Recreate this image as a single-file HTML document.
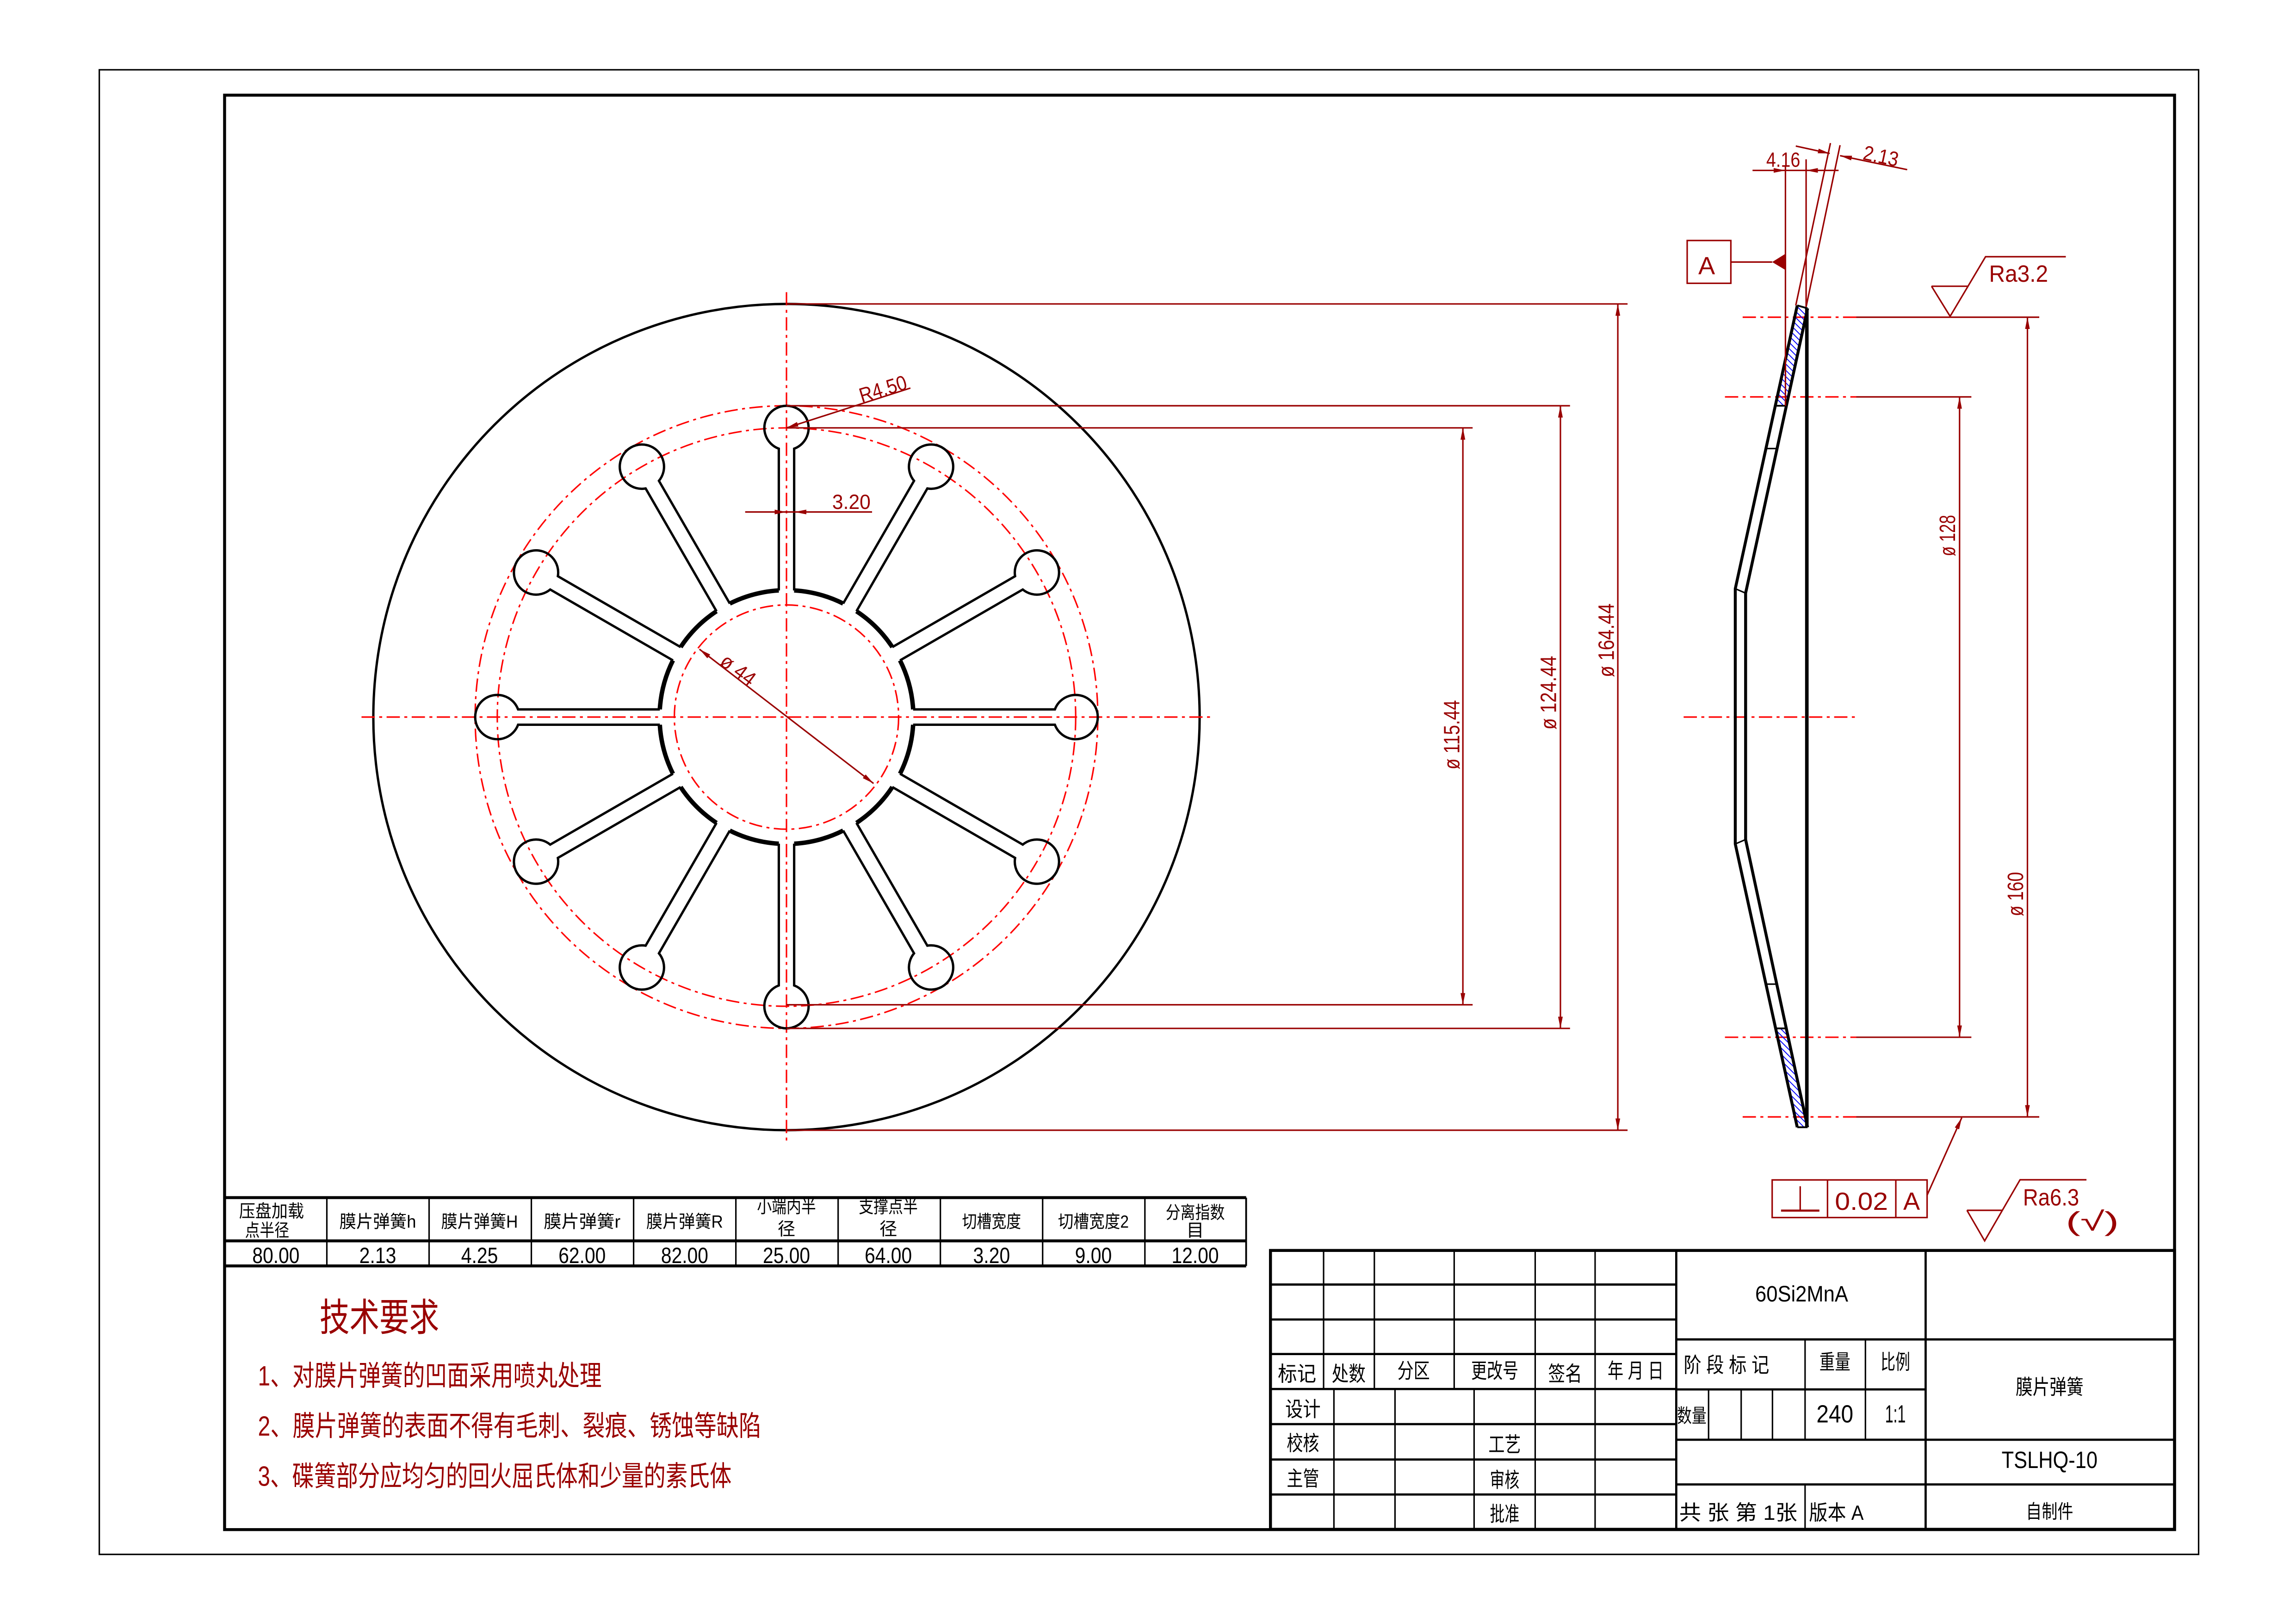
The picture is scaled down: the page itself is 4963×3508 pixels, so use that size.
<!DOCTYPE html>
<html><head><meta charset="utf-8"><style>html,body{margin:0;padding:0;background:#fff}svg{display:block}</style></head><body>
<svg xmlns="http://www.w3.org/2000/svg" xmlns:xlink="http://www.w3.org/1999/xlink" width="4963" height="3508" viewBox="0 0 1556 1100" preserveAspectRatio="none" font-family="Liberation Sans, Noto Sans CJK SC, sans-serif">
<defs>
<pattern id="h" width="3" height="3" patternUnits="userSpaceOnUse" patternTransform="rotate(-45)"><line x1="0" y1="0" x2="0" y2="3" stroke="#0000ff" stroke-width="1.2"/></pattern>
<marker id="ar" viewBox="0 0 10 4" refX="10" refY="2" markerWidth="8" markerHeight="3.2" markerUnits="userSpaceOnUse" orient="auto-start-reverse"><path d="M0,0 L10,2 L0,4 z" fill="#990000"/></marker>
<g id="sp">
<path d="M85.8,-5.2 L181.9,-5.2 A15,15 0 1 1 181.9,5.2 L85.8,5.2" fill="none" stroke="#000" stroke-width="1.6"/>
<path d="M85.84,5.2 A86,86 0 0 1 76.95,38.41" fill="none" stroke="#000" stroke-width="3"/>
</g>
</defs>
<rect width="1556" height="1100" fill="#fff"/>
<!-- borders -->
<rect x="67.3" y="47.3" width="1422.7" height="1006.2" fill="none" stroke="#000" stroke-width="1"/>
<rect x="152.2" y="64.5" width="1321.5" height="972.2" fill="none" stroke="#000" stroke-width="2"/>

<!-- main view -->
<circle cx="533" cy="486" r="280" fill="none" stroke="#000" stroke-width="1.6"/>
<g fill="none" stroke="#ff0000" stroke-width="1" stroke-dasharray="9,3,2,3">
<circle cx="533" cy="486" r="211"/>
<circle cx="533" cy="486" r="196"/>
<circle cx="533" cy="486" r="76"/>
<line x1="245" y1="486" x2="822" y2="486"/>
<line x1="533" y1="198" x2="533" y2="774"/>
</g>
<g transform="translate(533,486)">
<use xlink:href="#sp"/>
<use xlink:href="#sp" transform="rotate(30)"/>
<use xlink:href="#sp" transform="rotate(60)"/>
<use xlink:href="#sp" transform="rotate(90)"/>
<use xlink:href="#sp" transform="rotate(120)"/>
<use xlink:href="#sp" transform="rotate(150)"/>
<use xlink:href="#sp" transform="rotate(180)"/>
<use xlink:href="#sp" transform="rotate(210)"/>
<use xlink:href="#sp" transform="rotate(240)"/>
<use xlink:href="#sp" transform="rotate(270)"/>
<use xlink:href="#sp" transform="rotate(300)"/>
<use xlink:href="#sp" transform="rotate(330)"/>
</g>

<!-- dims main -->
<g stroke="#990000" stroke-width="1" fill="none">
<line x1="533" y1="206" x2="1103" y2="206"/>
<line x1="533" y1="766" x2="1103" y2="766"/>
<line x1="1096.4" y1="206" x2="1096.4" y2="766" marker-start="url(#ar)" marker-end="url(#ar)"/>
<line x1="533" y1="275" x2="1064" y2="275"/>
<line x1="533" y1="697" x2="1064" y2="697"/>
<line x1="1057.5" y1="275" x2="1057.5" y2="697" marker-start="url(#ar)" marker-end="url(#ar)"/>
<line x1="533" y1="290" x2="998" y2="290"/>
<line x1="533" y1="681" x2="998" y2="681"/>
<line x1="991.4" y1="290" x2="991.4" y2="681" marker-start="url(#ar)" marker-end="url(#ar)"/>
<line x1="617" y1="263" x2="533" y2="290" marker-end="url(#ar)"/>
<line x1="505" y1="347" x2="533" y2="347" marker-end="url(#ar)"/>
<line x1="591" y1="347" x2="538.5" y2="347" marker-end="url(#ar)"/>
<line x1="533" y1="347" x2="538.5" y2="347"/>
<line x1="474" y1="440" x2="592" y2="531" marker-start="url(#ar)" marker-end="url(#ar)"/>
</g>
<g fill="#990000" font-size="15">
<text transform="translate(989,498) rotate(-90)" text-anchor="middle" textLength="47" lengthAdjust="spacingAndGlyphs">ø 115.44</text>
<text transform="translate(1054.6,469.5) rotate(-90)" text-anchor="middle" textLength="50" lengthAdjust="spacingAndGlyphs">ø 124.44</text>
<text transform="translate(1093.7,434) rotate(-90)" text-anchor="middle" textLength="50" lengthAdjust="spacingAndGlyphs">ø 164.44</text>
<text transform="translate(584,273) rotate(-17)" font-size="14" textLength="33" lengthAdjust="spacingAndGlyphs">R4.50</text>
<text x="564" y="345" font-size="14" textLength="26" lengthAdjust="spacingAndGlyphs">3.20</text>
<text transform="translate(487,450) rotate(37)" font-size="14" textLength="26" lengthAdjust="spacingAndGlyphs">ø 44</text>
</g>

<!-- side view -->
<g fill="none" stroke="#ff0000" stroke-width="1" stroke-dasharray="9,3,2,3">
<line x1="1141" y1="486" x2="1260" y2="486"/>
<line x1="1181" y1="215" x2="1258" y2="215"/>
<line x1="1169" y1="269" x2="1258" y2="269"/>
<line x1="1169" y1="703" x2="1258" y2="703"/>
<line x1="1181" y1="757" x2="1258" y2="757"/>
</g>
<polygon points="1218,207 1225,209 1211,275 1204,275" fill="url(#h)"/>
<polygon points="1204,697 1211,697 1225,764 1218,764" fill="url(#h)"/>
<g fill="none" stroke="#000" stroke-width="2">
<polyline points="1218,207 1176,399 1176,572 1218,764"/>
<polyline points="1225,209 1183,402 1183,569 1225,764"/>
<line x1="1224.5" y1="209" x2="1224.5" y2="764" stroke-width="2.4"/>
<line x1="1218" y1="207" x2="1225" y2="209" stroke-width="1.2"/>
<line x1="1218" y1="764" x2="1225" y2="764" stroke-width="1.2"/>
<line x1="1204" y1="275" x2="1211" y2="275" stroke-width="1.2"/>
<line x1="1204" y1="697" x2="1211" y2="697" stroke-width="1.2"/>
<line x1="1197" y1="304" x2="1204" y2="304" stroke-width="1"/>
<line x1="1197" y1="667" x2="1204" y2="667" stroke-width="1"/>
<line x1="1176" y1="399" x2="1183" y2="402" stroke-width="1"/>
<line x1="1176" y1="572" x2="1183" y2="569" stroke-width="1"/>
</g>
<g stroke="#990000" stroke-width="1" fill="none">
<line x1="1258" y1="215" x2="1382" y2="215"/>
<line x1="1258" y1="269" x2="1336" y2="269"/>
<line x1="1258" y1="703" x2="1336" y2="703"/>
<line x1="1258" y1="757" x2="1382" y2="757"/>
<line x1="1328" y1="269" x2="1328" y2="703" marker-start="url(#ar)" marker-end="url(#ar)"/>
<line x1="1374" y1="215" x2="1374" y2="757" marker-start="url(#ar)" marker-end="url(#ar)"/>
<!-- top dims -->
<line x1="1187.7" y1="115.5" x2="1210" y2="115.5" marker-end="url(#ar)"/>
<line x1="1246" y1="115.5" x2="1224" y2="115.5" marker-end="url(#ar)"/>
<line x1="1210" y1="115.5" x2="1224" y2="115.5"/>
<line x1="1210" y1="113" x2="1210" y2="275"/>
<line x1="1224" y1="108" x2="1224" y2="208"/>
<line x1="1217" y1="207" x2="1240.5" y2="97"/>
<line x1="1224" y1="208" x2="1247" y2="98.4"/>
<line x1="1217" y1="99" x2="1240" y2="104" marker-end="url(#ar)"/>
<line x1="1292.5" y1="115" x2="1247" y2="105.5" marker-end="url(#ar)"/>
<!-- datum -->
<rect x="1143.4" y="163" width="29.6" height="29"/>
<line x1="1173" y1="177.6" x2="1201" y2="177.6"/>
<!-- Ra3.2 -->
<polyline points="1309,194 1334,194"/>
<polyline points="1309,194 1321.6,214.4 1345.6,174 1400,174"/>
<!-- tolerance -->
<rect x="1201" y="799.7" width="105" height="25.5"/>
<line x1="1238.5" y1="799.7" x2="1238.5" y2="825.2"/>
<line x1="1284.8" y1="799.7" x2="1284.8" y2="825.2"/>
<line x1="1306" y1="810" x2="1329.5" y2="757.5" marker-end="url(#ar)"/>
<line x1="1220" y1="804" x2="1220" y2="820"/>
<line x1="1207" y1="820.5" x2="1233" y2="820.5" stroke-width="1.4"/>
<!-- Ra6.3 -->
<polyline points="1333,820.3 1356.8,820.3"/>
<polyline points="1333,820.3 1345,841 1369,799.6 1414,799.6"/>
</g>
<polygon points="1201,177.6 1210,172 1210,183" fill="#990000"/>
<g fill="#990000">
<text x="1156.6" y="186" font-size="17" text-anchor="middle">A</text>
<text x="1208.5" y="113" font-size="14" text-anchor="middle" textLength="23" lengthAdjust="spacingAndGlyphs">4.16</text>
<text transform="translate(1262,108) rotate(12)" font-size="14" textLength="24" lengthAdjust="spacingAndGlyphs">2.13</text>
<text x="1348" y="191" font-size="16" textLength="40" lengthAdjust="spacingAndGlyphs">Ra3.2</text>
<text transform="translate(1325,363) rotate(-90)" font-size="15" text-anchor="middle" textLength="28" lengthAdjust="spacingAndGlyphs">ø 128</text>
<text transform="translate(1371,606) rotate(-90)" font-size="15" text-anchor="middle" textLength="30" lengthAdjust="spacingAndGlyphs">ø 160</text>
<text x="1261.5" y="820" font-size="17" text-anchor="middle" textLength="36" lengthAdjust="spacingAndGlyphs">0.02</text>
<text x="1295.5" y="820" font-size="17" text-anchor="middle">A</text>
<text x="1371" y="817" font-size="16" textLength="38" lengthAdjust="spacingAndGlyphs">Ra6.3</text>
<text x="1400" y="834" font-size="18" textLength="36" lengthAdjust="spacingAndGlyphs">(√)</text>
</g>

<!-- parameter table -->
<g stroke="#000" fill="none">
<line x1="152.2" y1="811.7" x2="844.5" y2="811.7" stroke-width="2"/>
<line x1="152.2" y1="841" x2="844.5" y2="841" stroke-width="2"/>
<line x1="152.2" y1="858" x2="844.5" y2="858" stroke-width="2"/>
<line x1="844.5" y1="811.7" x2="844.5" y2="858" stroke-width="1.2"/>
<g stroke-width="1">
<line x1="221.5" y1="811.7" x2="221.5" y2="858"/><line x1="290.8" y1="811.7" x2="290.8" y2="858"/>
<line x1="360.1" y1="811.7" x2="360.1" y2="858"/><line x1="429.4" y1="811.7" x2="429.4" y2="858"/>
<line x1="498.7" y1="811.7" x2="498.7" y2="858"/><line x1="568" y1="811.7" x2="568" y2="858"/>
<line x1="637.3" y1="811.7" x2="637.3" y2="858"/><line x1="706.6" y1="811.7" x2="706.6" y2="858"/>
<line x1="775.9" y1="811.7" x2="775.9" y2="858"/>
</g>
</g>
<g fill="#000" font-size="12" text-anchor="middle">
<text x="184" y="825" textLength="44" lengthAdjust="spacingAndGlyphs">压盘加载</text>
<text x="181" y="838" textLength="30" lengthAdjust="spacingAndGlyphs">点半径</text>
<text x="256" y="832" textLength="52" lengthAdjust="spacingAndGlyphs">膜片弹簧h</text>
<text x="325" y="832" textLength="52" lengthAdjust="spacingAndGlyphs">膜片弹簧H</text>
<text x="394.5" y="832" textLength="52" lengthAdjust="spacingAndGlyphs">膜片弹簧r</text>
<text x="464" y="832" textLength="52" lengthAdjust="spacingAndGlyphs">膜片弹簧R</text>
<text x="533" y="822" textLength="40" lengthAdjust="spacingAndGlyphs">小端内半</text>
<text x="533" y="837">径</text>
<text x="602" y="822" textLength="40" lengthAdjust="spacingAndGlyphs">支撑点半</text>
<text x="602" y="837">径</text>
<text x="672" y="832" textLength="40" lengthAdjust="spacingAndGlyphs">切槽宽度</text>
<text x="741" y="832" textLength="48" lengthAdjust="spacingAndGlyphs">切槽宽度2</text>
<text x="810" y="826" textLength="40" lengthAdjust="spacingAndGlyphs">分离指数</text>
<text x="810" y="838">目</text>
</g>
<g fill="#000" font-size="15" text-anchor="middle">
<text x="187" y="856" textLength="32" lengthAdjust="spacingAndGlyphs">80.00</text>
<text x="256" y="856" textLength="25" lengthAdjust="spacingAndGlyphs">2.13</text>
<text x="325" y="856" textLength="25" lengthAdjust="spacingAndGlyphs">4.25</text>
<text x="394.5" y="856" textLength="32" lengthAdjust="spacingAndGlyphs">62.00</text>
<text x="464" y="856" textLength="32" lengthAdjust="spacingAndGlyphs">82.00</text>
<text x="533" y="856" textLength="32" lengthAdjust="spacingAndGlyphs">25.00</text>
<text x="602" y="856" textLength="32" lengthAdjust="spacingAndGlyphs">64.00</text>
<text x="672" y="856" textLength="25" lengthAdjust="spacingAndGlyphs">3.20</text>
<text x="741" y="856" textLength="25" lengthAdjust="spacingAndGlyphs">9.00</text>
<text x="810" y="856" textLength="32" lengthAdjust="spacingAndGlyphs">12.00</text>
</g>

<!-- tech requirements -->
<g fill="#990000" font-family="Liberation Sans, Noto Sans CJK SC, sans-serif">
<text x="216.6" y="902" font-size="26" textLength="81" lengthAdjust="spacingAndGlyphs">技术要求</text>
<text x="174.8" y="939" font-size="19" textLength="233" lengthAdjust="spacingAndGlyphs">1、对膜片弹簧的凹面采用喷丸处理</text>
<text x="174.8" y="973" font-size="19" textLength="341" lengthAdjust="spacingAndGlyphs">2、膜片弹簧的表面不得有毛刺、裂痕、锈蚀等缺陷</text>
<text x="174.8" y="1007" font-size="19" textLength="321" lengthAdjust="spacingAndGlyphs">3、碟簧部分应均匀的回火屈氏体和少量的素氏体</text>
</g>

<!-- title block -->
<g stroke="#000" fill="none">
<rect x="861" y="847.5" width="612.7" height="189" stroke-width="2"/>
<g stroke-width="1.5">
<line x1="861" y1="870.6" x2="1136" y2="870.6"/>
<line x1="861" y1="894.3" x2="1136" y2="894.3"/>
<line x1="861" y1="917.7" x2="1136" y2="917.7"/>
<line x1="861" y1="941.4" x2="1136" y2="941.4"/>
<line x1="861" y1="965.2" x2="1136" y2="965.2"/>
<line x1="861" y1="989.2" x2="1136" y2="989.2"/>
<line x1="861" y1="1012.9" x2="1136" y2="1012.9"/>
<line x1="1136" y1="907.8" x2="1473.7" y2="907.8"/>
<line x1="1136" y1="941.7" x2="1305" y2="941.7"/>
<line x1="1136" y1="975.8" x2="1473.7" y2="975.8"/>
<line x1="1136" y1="1006.1" x2="1473.7" y2="1006.1"/>
</g>
<g stroke-width="1">
<line x1="897" y1="847.5" x2="897" y2="941.4"/>
<line x1="931.4" y1="847.5" x2="931.4" y2="941.4"/>
<line x1="985.5" y1="847.5" x2="985.5" y2="941.4"/>
<line x1="1040.4" y1="847.5" x2="1040.4" y2="1036.7"/>
<line x1="1081" y1="847.5" x2="1081" y2="1036.7"/>
<line x1="904" y1="941.4" x2="904" y2="1036.7"/>
<line x1="945.4" y1="941.4" x2="945.4" y2="1036.7"/>
<line x1="999" y1="941.4" x2="999" y2="1036.7"/>
<line x1="1136" y1="847.5" x2="1136" y2="1036.7" stroke-width="1.5"/>
<line x1="1305" y1="847.5" x2="1305" y2="1036.7" stroke-width="1.5"/>
<line x1="1223.3" y1="907.8" x2="1223.3" y2="975.8"/>
<line x1="1264.2" y1="907.8" x2="1264.2" y2="975.8"/>
<line x1="1157.9" y1="941.7" x2="1157.9" y2="975.8"/>
<line x1="1180" y1="941.7" x2="1180" y2="975.8"/>
<line x1="1201.2" y1="941.7" x2="1201.2" y2="975.8"/>
<line x1="1223.3" y1="1006.1" x2="1223.3" y2="1036.7"/>
</g>
</g>
<g fill="#000" font-size="14" text-anchor="middle">
<text x="879" y="936" textLength="26" lengthAdjust="spacingAndGlyphs">标记</text>
<text x="914" y="936" textLength="23" lengthAdjust="spacingAndGlyphs">处数</text>
<text x="958" y="934" textLength="22" lengthAdjust="spacingAndGlyphs">分区</text>
<text x="1013" y="934" textLength="32" lengthAdjust="spacingAndGlyphs">更改号</text>
<text x="1060.7" y="936" textLength="23" lengthAdjust="spacingAndGlyphs">签名</text>
<text x="1108.5" y="934" textLength="38" lengthAdjust="spacingAndGlyphs">年 月 日</text>
<text x="883" y="960" textLength="24" lengthAdjust="spacingAndGlyphs">设计</text>
<text x="883" y="983" textLength="22" lengthAdjust="spacingAndGlyphs">校核</text>
<text x="883" y="1007" textLength="22" lengthAdjust="spacingAndGlyphs">主管</text>
<text x="1019.7" y="984" textLength="22" lengthAdjust="spacingAndGlyphs">工艺</text>
<text x="1019.7" y="1008" textLength="20" lengthAdjust="spacingAndGlyphs">审核</text>
<text x="1019.7" y="1031" textLength="20" lengthAdjust="spacingAndGlyphs">批准</text>
<text x="1221" y="882" font-size="15" textLength="63" lengthAdjust="spacingAndGlyphs">60Si2MnA</text>
<text x="1170" y="930" textLength="58" lengthAdjust="spacingAndGlyphs">阶 段 标 记</text>
<text x="1243.5" y="928" textLength="21" lengthAdjust="spacingAndGlyphs">重量</text>
<text x="1284.5" y="928" textLength="20" lengthAdjust="spacingAndGlyphs">比例</text>
<text x="1146.5" y="964" font-size="13" textLength="20" lengthAdjust="spacingAndGlyphs">数量</text>
<text x="1243.5" y="964" font-size="17" textLength="25" lengthAdjust="spacingAndGlyphs">240</text>
<text x="1284.5" y="964" font-size="17" textLength="14" lengthAdjust="spacingAndGlyphs">1:1</text>
<text x="1389" y="945" textLength="46" lengthAdjust="spacingAndGlyphs">膜片弹簧</text>
<text x="1389" y="995" font-size="16" textLength="65" lengthAdjust="spacingAndGlyphs">TSLHQ-10</text>
<text x="1389" y="1029" font-size="13" textLength="32" lengthAdjust="spacingAndGlyphs">自制件</text>
<text x="1138" y="1030" text-anchor="start" textLength="80" lengthAdjust="spacingAndGlyphs">共 张  第 1张</text>
<text x="1226" y="1030" text-anchor="start" textLength="37" lengthAdjust="spacingAndGlyphs">版本 A</text>
</g>
</svg>
</body></html>
